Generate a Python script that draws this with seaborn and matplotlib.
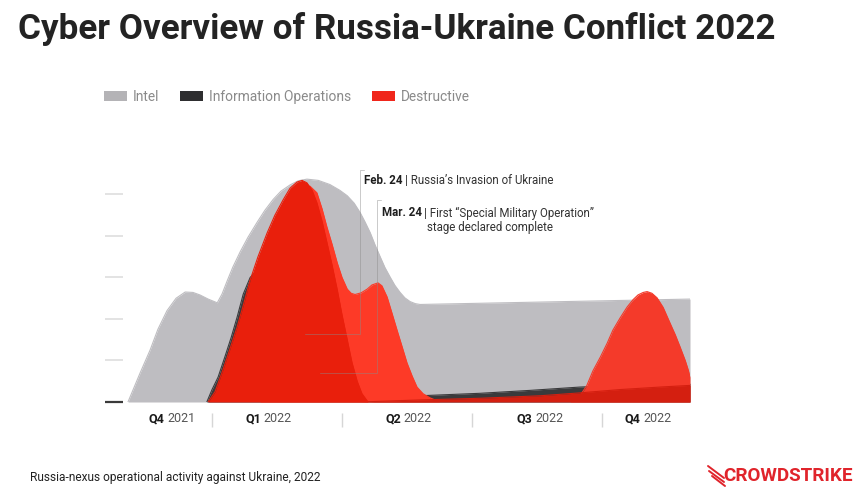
import matplotlib
matplotlib.use("Agg")
import matplotlib.pyplot as plt
from matplotlib import font_manager
from matplotlib.patches import Patch
from matplotlib.lines import Line2D
import seaborn as sns

W, H = 868, 488

# x = months since 1 Oct 2021 (chart spacing), y = relative activity level
intel_x = [1.06, 1.34, 1.57, 1.75, 1.96, 2.17, 2.38, 2.56, 2.72, 2.91,
           3.12, 3.23, 3.35, 3.48, 3.65, 3.83, 4.04, 4.22, 4.41, 4.59,
           4.80, 4.99, 5.19, 5.45, 5.72, 5.95, 6.12, 6.28, 6.42, 6.53,
           6.65, 6.76, 6.88, 6.99, 7.11, 7.22, 7.34, 7.45, 7.57, 7.69,
           7.80, 14.03]
intel_y = [0, 0.7, 1.25, 1.75, 2.2, 2.5, 2.65, 2.64, 2.58, 2.48,
           2.39, 2.6, 2.92, 3.25, 3.62, 3.97, 4.33, 4.62, 4.88, 5.08,
           5.23, 5.33, 5.37, 5.34, 5.24, 5.1, 4.97, 4.79, 4.56, 4.34,
           4.08, 3.79, 3.5, 3.24, 3.01, 2.81, 2.64, 2.51, 2.42, 2.37,
           2.35, 2.48]

info_x = [2.88, 3.0, 3.14, 3.30, 3.44, 3.58, 3.72, 3.88, 4.06, 4.34,
          4.80, 5.26, 5.72, 6.19, 6.88, 7.80, 8.26, 9.19, 10.34, 11.49,
          11.96, 12.88, 14.03]
info_y = [0, 0.3, 0.6, 1.1, 1.55, 2.05, 2.6, 3.0, 3.2, 3.2,
          2.4, 1.4, 0.7, 0.35, 0.2, 0.15, 0.17, 0.21, 0.28, 0.36,
          0.38, 0.42, 0.45]

# destructive activity drawn as several overlapping waves
main_x = [2.91, 3.07, 3.25, 3.42, 3.58, 3.74, 3.88, 4.06, 4.27, 4.45,
          4.64, 4.80, 4.96, 5.08, 5.19, 5.31, 5.42, 5.54, 5.65, 5.77,
          5.89, 6.0, 6.12, 6.23, 6.35, 6.46, 6.60]
main_y = [0, 0.25, 0.77, 1.3, 1.81, 2.4, 2.94, 3.5, 4.07, 4.5,
          4.87, 5.15, 5.3, 5.34, 5.28, 5.1, 4.8, 4.35, 3.85, 3.3,
          2.7, 2.1, 1.5, 0.95, 0.5, 0.2, 0]

wave_x = [4.11, 5.10, 5.26, 5.42, 5.54, 5.65, 5.77, 5.89, 6.0, 6.12,
          6.21, 6.30, 6.44, 6.58, 6.69, 6.83, 6.92, 7.04, 7.15, 7.27,
          7.39, 7.50, 7.62, 7.73, 7.87, 8.03, 8.26]
wave_y = [0, 5.2, 5.2, 5.04, 4.65, 4.22, 3.8, 3.35, 3.0, 2.72,
          2.62, 2.59, 2.63, 2.72, 2.82, 2.87, 2.8, 2.53, 2.15, 1.73,
          1.32, 0.94, 0.62, 0.36, 0.2, 0.1, 0]

q4_x = [11.26, 11.49, 11.65, 11.79, 11.96, 12.12, 12.25, 12.42, 12.58, 12.72,
        12.83, 12.95, 13.04, 13.15, 13.27, 13.41, 13.57, 13.69, 13.80, 13.92,
        13.99, 14.03]
q4_y = [0, 0.15, 0.4, 0.75, 1.08, 1.42, 1.73, 2.03, 2.29, 2.47,
        2.58, 2.64, 2.66, 2.62, 2.51, 2.28, 1.9, 1.62, 1.33, 1.0,
        0.77, 0.6]

tail_x = [6.42, 7.80, 9.19, 10.57, 11.49, 12.42, 13.34, 14.03]
tail_y = [0, 0.05, 0.09, 0.15, 0.22, 0.3, 0.36, 0.4]

y_ticks = [0, 1, 2, 3, 4, 5]
quarter_bold = ["Q4", "Q1", "Q2", "Q3", "Q4"]
quarter_year = ["2021", "2022", "2022", "2022", "2022"]
quarter_split = [1.92, 4.15, 7.38, 10.42, 12.91]
quarter_edges = [3, 6, 9, 12]

legend_labels = ["Intel", "Information Operations", "Destructive"]

sns.set_theme(style="white")
names = {f.name for f in font_manager.fontManager.ttflist}
narrow = "Liberation Sans Narrow" if "Liberation Sans Narrow" in names else "Roboto"
plt.rcParams["font.family"] = ["Roboto", "DejaVu Sans"]

fig = plt.figure(figsize=(W / 100, H / 100), dpi=100)
ax = fig.add_axes([105 / W, 1 - 402 / H, 585 / W, 232 / H])
ax.set_xlim(0.53, 14.03)
ax.set_ylim(0, 5.59)
ax.axis("off")

layers = [
    (intel_x, intel_y, "#bebdc1", 1),
    (info_x, info_y, "#3a3a3c", 2),
    (wave_x, wave_y, "#fd3a27", 3),
    (q4_x, q4_y, "#f43a2a", 4),
    (tail_x, tail_y, "#d41f10", 5),
    (main_x, main_y, "#e91f0c", 6),
]
for xs, ys, c, z in layers:
    ax.fill_between(xs, ys, 0, color=c, lw=0, zorder=z)
    sns.lineplot(x=xs, y=ys, ax=ax, color=c, lw=0.8, zorder=z, legend=False)

# little tick dashes on the left
ax.hlines(y_ticks[1:], 0.53, 0.95, color="#dedede", lw=1.2, clip_on=False)
ax.hlines(y_ticks[0], 0.53, 0.95, color="#3a3a3a", lw=1.6, clip_on=False)

# event leader lines
ln = dict(color="#8a8a8a", lw=0.7, alpha=0.45, zorder=7, clip_on=False)
ax.plot([5.15, 6.42, 6.42, 6.51], [1.64, 1.64, 5.59, 5.59], **ln)
ax.plot([5.49, 6.81, 6.81, 6.90], [0.70, 0.70, 4.87, 4.87], **ln)

# quarter labels
xt = ax.get_xaxis_transform()
for pos, q, yr in zip(quarter_split, quarter_bold, quarter_year):
    ax.text(pos - 0.02, -0.073, q, transform=xt, ha="right", va="center",
            fontsize=9, fontweight="bold", color="#1a1a1a")
    ax.text(pos + 0.04, -0.073, yr, transform=xt, ha="left", va="center",
            fontsize=9, color="#555555")
ax.vlines(quarter_edges, -0.047, -0.108, transform=xt, color="#d6d6d6",
          lw=1, clip_on=False)


def put(x_px, y_px, s, **kw):
    return fig.text(x_px / W, 1 - y_px / H, s, va="center", **kw)


def rich(x_px, y_px, parts, size):
    r = fig.canvas.get_renderer()
    for s, weight, color in parts:
        t = put(x_px, y_px, s, ha="left", fontsize=size, fontweight=weight,
                color=color)
        x_px += t.get_window_extent(r).width + 2.5


rich(364, 181, [("Feb. 24", "bold", "#1e1e1e"),
                ("| Russia\u2019s Invasion of Ukraine", "normal", "#333333")], 8.3)
rich(382, 213, [("Mar. 24", "bold", "#1e1e1e"),
                ("| First \u201cSpecial Military Operation\u201d", "normal", "#333333")], 8.3)
put(490, 227, "stage declared complete", ha="center", fontsize=8.3, color="#333333")

# title, fitted to its width in the reference
r = fig.canvas.get_renderer()
title = put(18, 29, "Cyber Overview of Russia-Ukraine Conflict 2022",
            ha="left", fontsize=26, fontweight="bold", color="#232323",
            family=[narrow, "Roboto"])
tw = title.get_window_extent(r).width
title.set_fontsize(min(28, 26 * 757 / tw))

# legend
handles = [Patch(facecolor="#b4b3b6", edgecolor="none"),
           Patch(facecolor="#2e2e30", edgecolor="none"),
           Patch(facecolor="#f0261b", edgecolor="none")]
fig.legend(handles, legend_labels, loc="center left",
           bbox_to_anchor=(104 / W, 1 - 97 / H), ncol=3, frameon=False,
           fontsize=9.9, handlelength=1.7, handleheight=0.75,
           handletextpad=0.4, columnspacing=1.5, borderpad=0,
           borderaxespad=0, labelcolor="#8a8a8a")

put(30, 477, "Russia-nexus operational activity against Ukraine, 2022",
    ha="left", fontsize=8.6, color="#222222")

# logo
put(723, 476, "CROWDSTRIKE", ha="left", fontsize=13.6, fontweight="bold",
    color="#e0242b")
for (x0, y0), (x1, y1) in [((708, 466), (724, 478)), ((709, 471), (724, 482)),
                           ((712, 476), (725, 486))]:
    fig.add_artist(Line2D([x0 / W, x1 / W], [1 - y0 / H, 1 - y1 / H],
                          color="#e0242b", lw=1.4, transform=fig.transFigure))

fig.savefig("out.png", dpi=100, facecolor="white")
